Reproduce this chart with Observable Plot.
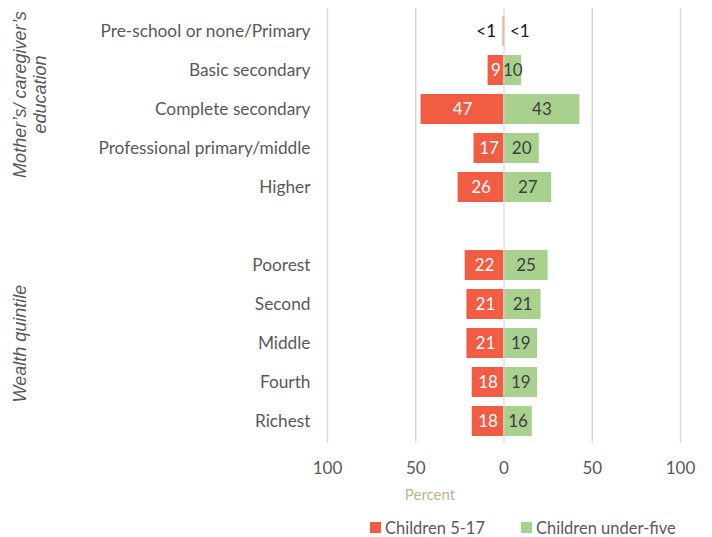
<!DOCTYPE html>
<html><head><meta charset="utf-8">
<script src="https://cdn.jsdelivr.net/npm/d3@7"></script>
<script src="https://cdn.jsdelivr.net/npm/@observablehq/plot@0.6"></script>
<style>
body{margin:0;background:#fff;font-family:Lato,sans-serif}
#legend{display:flex;align-items:center;padding-left:370px;padding-top:4px;height:27px;font-family:Lato,sans-serif;font-size:16.5px;color:#595959}
#legend .sw{width:11px;height:11px;margin-right:4px}
#legend .item{display:flex;align-items:center;margin-right:36px}
</style>
</head><body><div id="chart"></div>
<script>
const categories = ["Pre-school or none/Primary","Basic secondary","Complete secondary","Professional primary/middle","Higher"," ","Poorest","Second","Middle","Fourth","Richest"];
const olderValues   = [0.5, 9, 47, 17, 26, null, 22, 21, 21, 18, 18];
const youngerValues = [0.5, 10, 43, 20, 27, null, 25, 21, 19, 19, 16];
const olderLabels   = ["<1","9","47","17","26",null,"22","21","21","18","18"];
const youngerLabels = ["<1","10","43","20","27",null,"25","21","19","19","16"];
const seriesNames = ["Children 5-17","Children under-five"];
const colors = ["#F25C42","#A9D18E"];
const gridTicks = [-100,-50,50,100];
const axisTicks = [-100,-50,0,50,100];

const rows = [];
categories.forEach((c,i)=>{
  if (olderValues[i] != null) rows.push({cat:c, series:seriesNames[0], v:-olderValues[i], label:olderLabels[i]});
  if (youngerValues[i] != null) rows.push({cat:c, series:seriesNames[1], v:youngerValues[i], label:youngerLabels[i]});
});
const smallLeft = rows.filter(d=>d.label==="<1" && d.v<0);
const smallRight = rows.filter(d=>d.label==="<1" && d.v>0);
const big = rows.filter(d=>d.label!=="<1");

const chart = Plot.plot({
  width: 712, height: 510,
  marginTop: 8, marginBottom: 67, marginLeft: 327, marginRight: 32,
  style: {fontFamily: "Lato, sans-serif", fontSize: "17px", color: "#595959", background: "#fff"},
  x: {domain: [-100,100]},
  y: {domain: categories, paddingInner: 0.24, paddingOuter: 0.12},
  color: {domain: seriesNames, range: colors},
  marks: [
    Plot.ruleX(gridTicks, {stroke: "#d9d9d9", strokeWidth: 1.5}),
    Plot.barX(rows, {x: "v", y: "cat", fill: "series"}),
    Plot.ruleX([0], {stroke: "#d0d0d0", strokeWidth: 1}),
    Plot.text(big, {x: d => d.v/2, y: "cat", text: "label", fill: d => d.v < 0 ? "#ffffff" : "#404040", fontSize: 17}),
    Plot.text(smallLeft, {x: 0, y: "cat", text: "label", textAnchor: "end", dx: -8, fill: "#111", fontSize: 17}),
    Plot.text(smallRight, {x: 0, y: "cat", text: "label", textAnchor: "start", dx: 6, fill: "#222", fontSize: 17}),
    Plot.axisY({tickSize: 0, tickPadding: 17, fontSize: 17.3, tickFormat: d => d.trim(), label: null}),
    Plot.axisX({ticks: axisTicks, tickSize: 0, tickPadding: 18, fontSize: 17, tickFormat: d => Math.abs(d), label: null}),
    Plot.text(["Percent"], {frameAnchor: "bottom", dx: -74, dy: 56, fill: "#C2B48A", fontSize: 15}),
    Plot.text(["Mother\u2019s/ caregiver\u2019s\neducation"], {frameAnchor: "top-left", textAnchor: "middle", lineAnchor: "middle", dx: -298, dy: 86, rotate: -90, lineHeight: 1.15, fontFamily: "Liberation Sans, Arial, sans-serif", fontStyle: "italic", fontSize: 18, fill: "#595959"}),
    Plot.text(["Wealth quintile"], {frameAnchor: "top-left", textAnchor: "middle", lineAnchor: "middle", dx: -307, dy: 335, rotate: -90, fontFamily: "Liberation Sans, Arial, sans-serif", fontStyle: "italic", fontSize: 18, fill: "#595959"})
  ]
});
document.getElementById("chart").appendChild(chart);

const legend = document.createElement("div");
legend.id = "legend";
seriesNames.forEach((s,i)=>{
  const it = document.createElement("div"); it.className = "item";
  const sw = document.createElement("div"); sw.className = "sw"; sw.style.background = colors[i];
  const t = document.createElement("span"); t.textContent = s;
  it.appendChild(sw); it.appendChild(t); legend.appendChild(it);
});
document.body.appendChild(legend);
</script>
</body></html>
